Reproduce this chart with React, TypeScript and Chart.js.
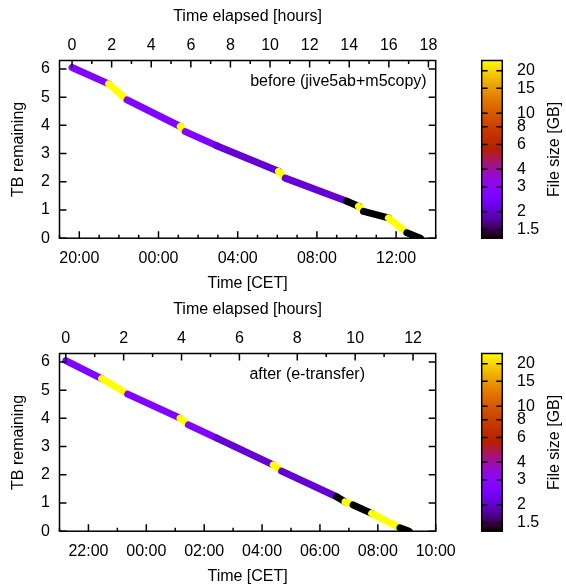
import React, { useEffect, useRef } from 'react';
import { Chart, registerables } from 'chart.js';
Chart.register(...registerables);

const FONT = '"Liberation Sans", Arial, sans-serif';

// ---------- data: panel 1 (before) ----------
const beforeHours = [0, 1.85, 2.78, 5.47, 5.72, 7.3, 10.43, 10.77, 13.88, 14.47, 14.72, 15.98, 16.91, 17.6];
const beforeTB = [6.05, 5.47, 4.9, 3.96, 3.78, 3.28, 2.37, 2.13, 1.31, 1.13, 0.95, 0.72, 0.19, 0.0];
const beforeSizeGB = [2.7, 23.6, 2.7, 23.6, 2.7, 2.05, 23.6, 2.05, 1.3, 23.6, 1.3, 23.6, 1.3, 1.3];
const beforeStartCET = 19 + 38 / 60;
const beforeCETMin = 19;
const beforeCETMax = 38;
const beforeElapsedTicks = [0, 2, 4, 6, 8, 10, 12, 14, 16, 18];
const beforeCETTicks = [20, 24, 28, 32, 36];
const beforeCETLabels = ['20:00', '00:00', '04:00', '08:00', '12:00'];

// ---------- data: panel 2 (after) ----------
const afterHours = [0, 1.24, 2.14, 3.95, 4.24, 5.22, 7.17, 7.46, 9.36, 9.65, 9.93, 10.57, 11.55, 11.87];
const afterTB = [6.05, 5.41, 4.86, 4.01, 3.77, 3.3, 2.35, 2.13, 1.22, 1.04, 0.93, 0.63, 0.12, 0.0];
const afterSizeGB = [2.7, 23.6, 2.7, 23.6, 2.7, 2.05, 23.6, 2.05, 1.3, 23.6, 1.3, 23.6, 1.3, 1.3];
const afterStartCET = 21 + 13 / 60;
const afterCETMin = 21;
const afterCETMax = 34;
const afterElapsedTicks = [0, 2, 4, 6, 8, 10, 12];
const afterCETTicks = [22, 24, 26, 28, 30, 32, 34];
const afterCETLabels = ['22:00', '00:00', '02:00', '04:00', '06:00', '08:00', '10:00'];

// ---------- shared axes ----------
const yTicks = [0, 1, 2, 3, 4, 5, 6];
const yMax = 6.3;
const cbTicks = [1.5, 2, 3, 4, 6, 8, 10, 15, 20];
const cbMin = 1.3;
const cbMax = 23.6;

function palette(f: number) {
  const c = (v: number) => Math.round(Math.max(0, Math.min(1, v)) * 255);
  return `rgb(${c(Math.sqrt(f))},${c(f * f * f)},${c(Math.sin(2 * Math.PI * f))})`;
}
function sizeColor(v: number) {
  const f = Math.log(v / cbMin) / Math.log(cbMax / cbMin);
  return palette(Math.max(0, Math.min(1, f)));
}

const framePlugin = {
  id: 'frame',
  afterDraw(chart: any, _args: any, opts: any) {
    const { ctx, chartArea: a, scales } = chart;
    const { x, x2, y, cb } = scales;
    ctx.save();
    ctx.strokeStyle = '#000';
    ctx.lineWidth = 1.5;
    ctx.beginPath();
    const tick = (x0: number, y0: number, x1: number, y1: number) => {
      ctx.moveTo(x0, y0);
      ctx.lineTo(x1, y1);
    };
    const MAJ = 7, MIN = 3.5;
    for (let h = Math.ceil(opts.cetMin); h <= opts.cetMax; h++) {
      const px = x.getPixelForValue(h - opts.start);
      const len = opts.cetTicks.includes(h) ? MAJ : MIN;
      tick(px, a.bottom, px, a.bottom - len);
    }
    for (let h = Math.ceil(x2.min); h <= x2.max; h++) {
      const px = x2.getPixelForValue(h);
      const len = opts.elapsedTicks.includes(h) ? MAJ : MIN;
      tick(px, a.top, px, a.top + len);
    }
    for (const t of yTicks) {
      const py = y.getPixelForValue(t);
      tick(a.left, py, a.left + MAJ, py);
      tick(a.right, py, a.right - MAJ, py);
    }
    ctx.stroke();
    ctx.strokeRect(a.left, a.top, a.right - a.left, a.bottom - a.top);

    // colour box
    const bx = a.right + 46;
    const bw = 20.6;
    const g = ctx.createLinearGradient(0, a.bottom, 0, a.top);
    for (let i = 0; i <= 60; i++) g.addColorStop(i / 60, palette(i / 60));
    ctx.fillStyle = g;
    ctx.fillRect(bx, a.top, bw, a.bottom - a.top);
    ctx.strokeRect(bx, a.top, bw, a.bottom - a.top);
    ctx.beginPath();
    for (const t of cbTicks) {
      const py = cb.getPixelForValue(t);
      tick(bx, py, bx + 6, py);
      tick(bx + bw, py, bx + bw - 6, py);
    }
    ctx.stroke();

    ctx.fillStyle = '#000';
    ctx.font = `16px ${FONT}`;
    ctx.textBaseline = 'middle';
    ctx.textAlign = 'right';
    ctx.fillText(opts.label, a.right - opts.labelDx, a.top + 21);

    ctx.translate(555, (a.top + a.bottom) / 2);
    ctx.rotate(-Math.PI / 2);
    ctx.textAlign = 'center';
    ctx.fillText('File size [GB]', 0, 0);
    ctx.restore();
  },
};

type PanelProps = {
  hours: number[];
  tb: number[];
  sizes: number[];
  start: number;
  cetMin: number;
  cetMax: number;
  elapsedTicks: number[];
  cetTicks: number[];
  cetLabels: string[];
  label: string;
  labelDx: number;
};

function Panel(p: PanelProps) {
  const ref = useRef<HTMLCanvasElement | null>(null);
  useEffect(() => {
    if (!ref.current) return;
    const xmin = p.cetMin - p.start;
    const xmax = p.cetMax - p.start;
    const font = { family: FONT, size: 16 };
    const data = p.hours.map((h, i) => ({ x: h, y: p.tb[i] }));
    const chart = new Chart(ref.current, {
      type: 'line',
      data: {
        datasets: [
          {
            data,
            xAxisID: 'x',
            yAxisID: 'y',
            borderWidth: 7,
            borderCapStyle: 'round',
            borderJoinStyle: 'round',
            pointRadius: 0,
            tension: 0,
            segment: {
              borderColor: (ctx: any) => sizeColor(p.sizes[ctx.p0DataIndex]),
            },
          } as any,
        ],
      },
      options: {
        responsive: false,
        animation: false,
        devicePixelRatio: 1,
        layout: { padding: { top: 1.5, bottom: 0, left: 0, right: 0 } },
        plugins: {
          legend: { display: false },
          tooltip: { enabled: false },
          frame: {
            start: p.start,
            cetMin: p.cetMin,
            cetMax: p.cetMax,
            cetTicks: p.cetTicks,
            elapsedTicks: p.elapsedTicks,
            label: p.label,
            labelDx: p.labelDx,
          },
        } as any,
        scales: {
          x: {
            type: 'linear',
            position: 'bottom',
            min: xmin,
            max: xmax,
            afterBuildTicks: (s: any) => {
              s.ticks = p.cetTicks.map((c) => ({ value: c - p.start }));
            },
            afterFit: (s: any) => {
              s.height = 54.8;
            },
            grid: { display: false, drawTicks: false },
            border: { display: false },
            ticks: {
              autoSkip: false,
              maxRotation: 0,
              padding: 10.5,
              color: '#000',
              font,
              callback: (_v: any, i: number) => p.cetLabels[i],
            },
            title: { display: true, text: 'Time [CET]', color: '#000', font, padding: { top: 0, bottom: 0 } },
          },
          x2: {
            type: 'linear',
            position: 'top',
            min: xmin,
            max: xmax,
            afterBuildTicks: (s: any) => {
              s.ticks = p.elapsedTicks.map((v) => ({ value: v }));
            },
            afterFit: (s: any) => {
              s.height = 59;
            },
            grid: { display: false, drawTicks: false },
            border: { display: false },
            ticks: {
              autoSkip: false,
              maxRotation: 0,
              padding: 5.5,
              color: '#000',
              font,
              callback: (v: any) => String(v),
            },
            title: { display: true, text: 'Time elapsed [hours]', color: '#000', font, padding: { top: 5.4, bottom: 0 } },
          },
          y: {
            type: 'linear',
            position: 'left',
            min: 0,
            max: yMax,
            afterBuildTicks: (s: any) => {
              s.ticks = yTicks.map((v) => ({ value: v }));
            },
            afterFit: (s: any) => {
              s.width = 59.5;
            },
            grid: { display: false, drawTicks: false },
            border: { display: false },
            ticks: { autoSkip: false, padding: 9.5, color: '#000', font, callback: (v: any) => String(v) },
            title: { display: true, text: 'TB remaining', color: '#000', font, padding: { top: 8.5, bottom: 0 } },
          },
          cb: {
            type: 'logarithmic',
            position: 'right',
            min: cbMin,
            max: cbMax,
            afterBuildTicks: (s: any) => {
              s.ticks = cbTicks.map((v) => ({ value: v }));
            },
            afterFit: (s: any) => {
              s.width = 130.3;
            },
            grid: {
              display: true,
              drawOnChartArea: false,
              drawTicks: true,
              tickLength: 78,
              color: 'rgba(0,0,0,0)',
            },
            border: { display: false },
            ticks: { autoSkip: false, padding: 3.3, color: '#000', font, callback: (v: any) => String(v) },
          },
        } as any,
      },
      plugins: [framePlugin],
    });
    return () => chart.destroy();
  }, []);
  return <canvas ref={ref} width={566} height={293} style={{ display: 'block', width: 566, height: 293 }} />;
}

export default function App() {
  return (
    <div style={{ position: 'absolute', left: 0, top: 0, width: 566, height: 586, background: '#fff' }}>
      <Panel
        hours={beforeHours}
        tb={beforeTB}
        sizes={beforeSizeGB}
        start={beforeStartCET}
        cetMin={beforeCETMin}
        cetMax={beforeCETMax}
        elapsedTicks={beforeElapsedTicks}
        cetTicks={beforeCETTicks}
        cetLabels={beforeCETLabels}
        label="before (jive5ab+m5copy)"
        labelDx={9}
      />
      <Panel
        hours={afterHours}
        tb={afterTB}
        sizes={afterSizeGB}
        start={afterStartCET}
        cetMin={afterCETMin}
        cetMax={afterCETMax}
        elapsedTicks={afterElapsedTicks}
        cetTicks={afterCETTicks}
        cetLabels={afterCETLabels}
        label="after (e-transfer)"
        labelDx={70.7}
      />
    </div>
  );
}
